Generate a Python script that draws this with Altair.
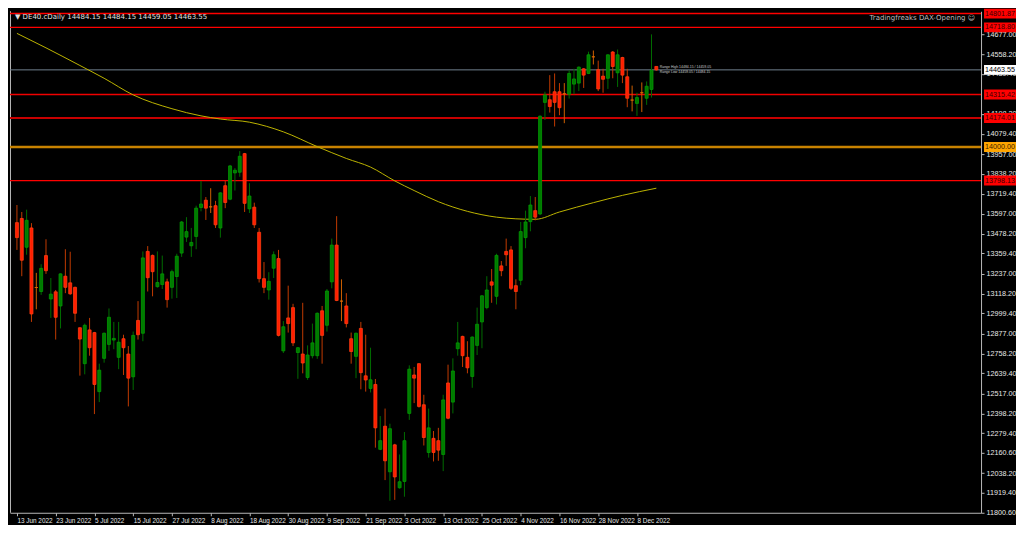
import altair as alt
import pandas as pd

# ---------------- data ----------------
tick_labels = ["13 Jun 2022", "23 Jun 2022", "5 Jul 2022", "15 Jul 2022", "27 Jul 2022",
               "8 Aug 2022", "18 Aug 2022", "30 Aug 2022", "9 Sep 2022", "21 Sep 2022",
               "3 Oct 2022", "13 Oct 2022", "25 Oct 2022", "4 Nov 2022", "16 Nov 2022",
               "28 Nov 2022", "8 Dec 2022"]
tick_step = 8  # bars between date labels

opens = [13545, 13570, 13397, 13513, 13155, 13131, 13347, 13086, 13129, 13044,
         13223, 13183, 13156, 12913, 12697, 12900, 12884, 12529, 12729, 12813,
         12839, 12735, 12847, 12755, 12618, 12957, 12880, 13372, 13348, 13160,
         13173, 13189, 13156, 13221, 13362, 13458, 13406, 13462, 13636, 13680,
         13640, 13647, 13513, 13767, 13686, 13844, 13848, 13960, 13628, 13638,
         13487, 13208, 13140, 13271, 13329, 12774, 12972, 13034, 12764, 12755,
         12614, 12745, 12745, 13015, 12928, 13189, 13410, 13073, 13044, 12847,
         12741, 12909, 12624, 12548, 12572, 12182, 12321, 12047, 12209, 11951,
         11989, 12398, 12629, 12697, 12450, 12163, 12248, 12234, 12151, 12581,
         12466, 12787, 12861, 12735, 12620, 12807, 12948, 13034, 13189, 13102,
         13285, 13372, 13381, 13166, 13198, 13455, 13551, 13617, 13597, 14268,
         14284, 14332, 14332, 14320, 14317, 14378, 14384, 14470, 14442, 14542,
         14465, 14426, 14413, 14571, 14446, 14538, 14422, 14282, 14262, 14326,
         14293, 14346, 14484.15]
highs = [13651, 13609, 13623, 13542, 13243, 13295, 13445, 13212, 13140, 13240,
         13385, 13370, 13160, 12915, 12938, 12972, 12888, 12697, 12884, 13029,
         12948, 12948, 12871, 12803, 12890, 13073, 13372, 13404, 13353, 13372,
         13347, 13208, 13262, 13358, 13555, 13578, 13513, 13647, 13796, 13699,
         13752, 13676, 13728, 13796, 13892, 13873, 13975, 13964, 13782, 13665,
         13513, 13308, 13247, 13372, 13381, 12953, 13166, 13057, 12797, 13063,
         12807, 12938, 13005, 13044, 13146, 13449, 13584, 13204, 13121, 12884,
         12884, 12948, 12871, 12793, 12605, 12382, 12427, 12336, 12215, 12151,
         12286, 12687, 12677, 12700, 12510, 12427, 12292, 12311, 12510, 12691,
         12729, 12948, 12865, 12832, 12861, 13034, 13110, 13223, 13266, 13358,
         13314, 13449, 13404, 13204, 13549, 13617, 13705, 13699, 14190, 14332,
         14432, 14442, 14384, 14384, 14461, 14470, 14484, 14474, 14573, 14580,
         14519, 14470, 14557, 14577, 14586, 14542, 14470, 14369, 14326, 14388,
         14394, 14677, 14484.15]
lows = [13381, 13223, 13352, 12948, 13024, 13111, 13237, 12972, 12842, 12909,
        13121, 13111, 12948, 12625, 12633, 12745, 12394, 12466, 12703, 12774,
        12784, 12664, 12629, 12440, 12539, 12842, 12832, 13131, 13102, 13154,
        13146, 13034, 13088, 13092, 13339, 13429, 13339, 13385, 13613, 13561,
        13603, 13513, 13455, 13632, 13680, 13738, 13821, 13609, 13603, 13513,
        13185, 13121, 13082, 13212, 12861, 12761, 12884, 12803, 12606, 12639,
        12600, 12729, 12726, 12697, 12890, 13150, 13073, 12953, 12915, 12697,
        12610, 12543, 12529, 12524, 12192, 12177, 11997, 11873, 11878, 11945,
        11897, 12359, 12460, 12433, 12205, 12132, 12109, 12113, 12051, 12363,
        12398, 12745, 12677, 12639, 12552, 12749, 12790, 13024, 13063, 13053,
        13223, 13285, 13140, 13024, 13169, 13391, 13493, 13559, 13590, 14162,
        14207, 14123, 14191, 14143, 14291, 14317, 14336, 14355, 14438, 14496,
        14336, 14326, 14349, 14413, 14361, 14384, 14239, 14214, 14187, 14210,
        14253, 14297, 14459.05]
closes = [13455, 13319, 13559, 12996, 13155, 13270, 13256, 13115, 12976, 13237,
          13156, 13117, 13000, 12845, 12928, 12793, 12572, 12658, 12880, 12976,
          12849, 12826, 12793, 12610, 12867, 12871, 13333, 13214, 13250, 13185,
          13237, 13082, 13250, 13343, 13549, 13491, 13426, 13632, 13657, 13632,
          13640, 13532, 13724, 13666, 13886, 13860, 13944, 13661, 13705, 13532,
          13208, 13156, 13192, 13352, 12867, 12919, 12938, 12822, 12793, 12701,
          12749, 12822, 13000, 12867, 13134, 13410, 13077, 13073, 12938, 12770,
          12880, 12643, 12599, 12600, 12311, 12234, 12113, 12306, 12016, 11987,
          12234, 12664, 12610, 12440, 12253, 12311, 12163, 12177, 12479, 12369,
          12653, 12822, 12745, 12672, 12857, 12934, 13105, 13140, 13169, 13348,
          13256, 13352, 13150, 13131, 13491, 13549, 13651, 13578, 14185, 14313,
          14243, 14268, 14236, 14320, 14442, 14409, 14480, 14432, 14554, 14542,
          14349, 14407, 14554, 14484, 14554, 14432, 14293, 14282, 14297, 14326,
          14365, 14461, 14463.55]

# moving average (read at sample bars)
ma_bar = [0, 6, 13, 18, 24, 32, 38, 42, 48, 55, 62, 68, 73, 78, 82, 87, 93, 99,
          103, 107, 112, 119, 125, 132]
ma_value = [14683, 14596, 14490, 14413, 14313, 14230, 14187, 14168, 14149, 14091,
            14002, 13931, 13879, 13796, 13738, 13671, 13613, 13578, 13568, 13565,
            13609, 13665, 13709, 13752]

# horizontal levels
level_names = ["r1", "r2", "cur", "r3", "r4", "psy", "r5"]
level_prices = [14801.87, 14718.80, 14463.55, 14315.42, 14174.01, 14000.00, 13798.13]

# price-axis ticks (the one fully hidden under the 14315.42 tag is left out)
price_ticks = [11800.60, 11919.40, 12038.20, 12160.60, 12279.40, 12398.20, 12517.00,
               12639.40, 12758.20, 12877.00, 12999.40, 13118.20, 13237.00, 13359.40,
               13478.20, 13597.00, 13719.40, 13838.20, 13957.00, 14079.40, 14198.20,
               14439.40, 14558.20, 14677.00]

header_text = "\u25BC DE40.cDaily  14484.15 14484.15 14459.05 14463.55"
ea_text = "Tradingfreaks DAX-Opening \u263A"
note_lines = ["Range High 14484.15 / 14459.05", "Range Low  14459.05 / 14484.15"]
note_prices = [14478, 14452]

# ---------------- styles ----------------
W, H = 972, 502
FONT = "Liberation Sans"
body_fill = {"up": "#007a00", "down": "#ff1e00", "flat": "#e06a00"}
body_stroke = {"up": "#009a00", "down": "#ff3c10", "flat": "#e06a00"}
wick_color = {"up": "#006c00", "down": "#c23a00", "flat": "#d06000"}
line_color = {"r1": "#ff0000", "r2": "#ff0000", "cur": "#6f7f8f", "r3": "#f00000",
              "r4": "#c80000", "psy": "#c88200", "r5": "#ff0000"}
line_width = {"r1": 1.5, "r2": 1.2, "cur": 1, "r3": 1.5, "r4": 2, "psy": 2.5, "r5": 1.2}
box_fill = {"r1": "#ff0000", "r2": "#ff0000", "cur": "#ffffff", "r3": "#ff0000",
            "r4": "#ff0000", "psy": "#ffa500", "r5": "#ff0000"}
box_text = {"r1": "#3a0000", "r2": "#3a0000", "cur": "#000000", "r3": "#3a0000",
            "r4": "#3a0000", "psy": "#3a2000", "r5": "#3a0000"}

# ---------------- tables ----------------
n = len(opens)
df = pd.DataFrame({"i": list(range(n)), "o": opens, "h": highs, "l": lows, "c": closes})
df["dir"] = ["up" if c > o else ("down" if c < o else "flat") for o, c in zip(opens, closes)]
df["bf"] = df["dir"].map(body_fill)
df["bs"] = df["dir"].map(body_stroke)
df["wc"] = df["dir"].map(wick_color)

ma_df = pd.DataFrame({"i": ma_bar, "v": ma_value})

lv = pd.DataFrame({"name": level_names, "p": level_prices})
lv["lc"] = lv["name"].map(line_color)
lv["lw"] = lv["name"].map(line_width)
lv["bf"] = lv["name"].map(box_fill)
lv["bt"] = lv["name"].map(box_text)

note_df = pd.DataFrame({"t": note_lines, "p": note_prices, "i": [132.7, 132.7]})

# ---------------- scales / axes ----------------
xsc = alt.Scale(domain=[-0.4, 198], nice=False, zero=False)
ysc = alt.Scale(domain=[11800.6, 14816], nice=False, zero=False)

label_arr = "[" + ",".join("'" + s + "'" for s in tick_labels) + "]"
xaxis = alt.Axis(orient="bottom", values=[k * tick_step for k in range(len(tick_labels))],
                 labelExpr=label_arr + "[round(datum.value / %d)]" % tick_step,
                 labelAlign="left", labelBaseline="top", labelPadding=2, labelFlush=False,
                 labelOverlap=False, labelColor="#e8e8e8", labelFont=FONT, labelFontSize=6.4,
                 tickColor="#b8b8b8", tickSize=3, domainColor="#b8b8b8", grid=False,
                 title=None)
yaxis = alt.Axis(orient="right", values=price_ticks, format=".2f", labelPadding=2,
                 labelOverlap=False, labelColor="#e8e8e8", labelFont=FONT, labelFontSize=7.2,
                 tickColor="#b8b8b8", tickSize=3, domainColor="#b8b8b8", grid=False,
                 title=None)

X = lambda f: alt.X(f, scale=xsc, axis=xaxis, title=None)
Y = lambda f: alt.Y(f, scale=ysc, axis=yaxis, title=None)

# ---------------- layers ----------------
frame = alt.Chart(pd.DataFrame({"k": [0]})).mark_rule(color="#b8b8b8", strokeWidth=1).encode(
    x=alt.value(0.5), y=alt.value(0), y2=alt.value(H))

levels = alt.Chart(lv).mark_rule().encode(
    y=Y("p:Q"),
    color=alt.Color("lc:N", scale=None),
    strokeWidth=alt.StrokeWidth("lw:Q", scale=None))

ma = alt.Chart(ma_df).mark_line(color="#bdb400", strokeWidth=1, interpolate="monotone").encode(
    x=X("i:Q"), y=Y("v:Q"))

wicks = alt.Chart(df).mark_rule(strokeWidth=1).encode(
    x=X("i:Q"), y=Y("l:Q"), y2="h:Q",
    color=alt.Color("wc:N", scale=None))

bodies = alt.Chart(df).mark_bar(width=3, strokeWidth=0.8).encode(
    x=X("i:Q"), y=Y("o:Q"), y2="c:Q",
    fill=alt.Fill("bf:N", scale=None),
    stroke=alt.Stroke("bs:N", scale=None))

boxes = alt.Chart(lv).mark_point(
    shape="M-1,-0.31L1,-0.31L1,0.31L-1,0.31Z", filled=True, size=1024, opacity=1,
    strokeWidth=0).encode(
    x=alt.value(W + 19), y=Y("p:Q"),
    fill=alt.Fill("bf:N", scale=None))

box_labels = alt.Chart(lv).mark_text(
    align="center", baseline="middle", font=FONT, fontSize=7.2).encode(
    x=alt.value(W + 19), y=Y("p:Q"),
    text=alt.Text("p:Q", format=".2f"),
    color=alt.Color("bt:N", scale=None))

header = alt.Chart(pd.DataFrame({"t": [header_text]})).mark_text(
    align="left", baseline="middle", font="DejaVu Sans", fontSize=7, color="#e0e0e0").encode(
    x=alt.value(5), y=alt.value(6), text="t:N")

ea = alt.Chart(pd.DataFrame({"t": [ea_text]})).mark_text(
    align="right", baseline="middle", font="DejaVu Sans", fontSize=7, color="#bdbdbd").encode(
    x=alt.value(W - 6), y=alt.value(7), text="t:N")

notes = alt.Chart(note_df).mark_text(
    align="left", baseline="middle", font=FONT, fontSize=3.5, color="#c8c8c8").encode(
    x=X("i:Q"), y=Y("p:Q"), text="t:N")

chart = alt.layer(frame, levels, ma, wicks, bodies, boxes, box_labels, header, ea, notes).properties(
    width=W, height=H, background="#000000",
    padding={"left": 0, "top": 0, "right": 0, "bottom": 0}
).configure_view(strokeWidth=0)

chart.save("out.html", embed_options={"renderer": "svg", "actions": False})
